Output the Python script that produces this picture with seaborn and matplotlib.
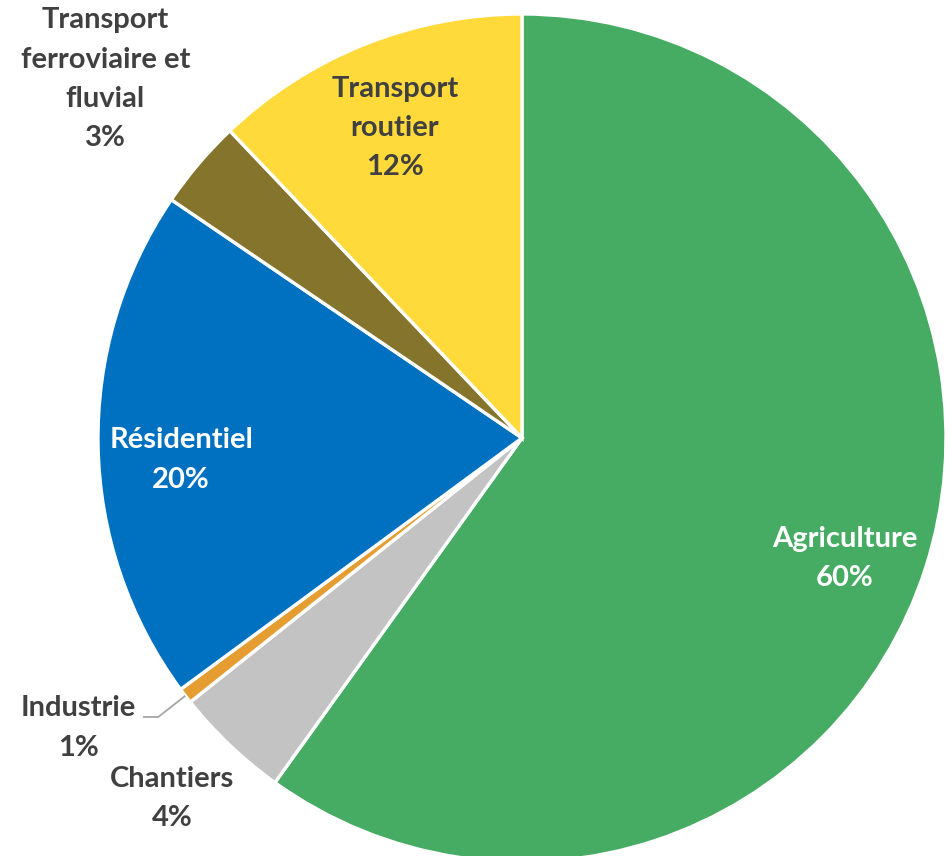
import numpy as np
import matplotlib
matplotlib.use("Agg")
import matplotlib.pyplot as plt
import seaborn as sns

# Share of emissions by sector (%), in drawing order (clockwise from 12 o'clock)
sectors = ["Agriculture", "Chantiers", "Industrie", "Résidentiel",
           "Transport\nferroviaire et\nfluvial", "Transport\nroutier"]
shares = [59.9, 4.4, 0.6, 19.6, 3.4, 12.1]
colors = ["#46AC64", "#C3C3C3", "#E59D32", "#0070C0", "#85742C", "#FFDA3A"]
label_colors = ["white", "#404040", "#404040", "white", "#404040", "#404040"]

sns.set_theme(style="white")
plt.rcParams["font.family"] = ["Lato", "DejaVu Sans"]

fig = plt.figure(figsize=(9.48, 8.56), dpi=100)
ax = fig.add_axes([0, 0, 1, 1])

wedges, _ = ax.pie(shares, colors=colors, startangle=90, counterclock=False,
                   radius=1.0, wedgeprops=dict(edgecolor="white", linewidth=2.4))

# label anchor points (data units, pie radius = 1)
label_pos = [(0.762, -0.285), (-0.825, -0.850), (-1.047, -0.684),
             (-0.804, -0.052), (-0.983, 0.846), (-0.300, 0.731)]

total = sum(shares)
for name, val, (lx, ly), tc in zip(sectors, shares, label_pos, label_colors):
    ax.text(lx, ly, f"{name}\n{round(val / total * 100):.0f}%", ha="center", va="center",
            fontsize=21, fontweight="bold", color=tc, linespacing=1.63)

# leader line for the thin Industrie slice
w = wedges[2]
mid = np.deg2rad((w.theta1 + w.theta2) / 2)
sx, sy = np.cos(mid), np.sin(mid)
ax.plot([sx, -0.858, -0.894], [sy, -0.658, -0.658], color="#A6A6A6", lw=1.3,
        solid_capstyle="butt")

ax.set_xlim(-522 / 424, 426 / 424)
ax.set_ylim(-418 / 424, 438 / 424)
ax.set_aspect("auto")
ax.axis("off")

fig.savefig("out.png", dpi=100, facecolor="white")
